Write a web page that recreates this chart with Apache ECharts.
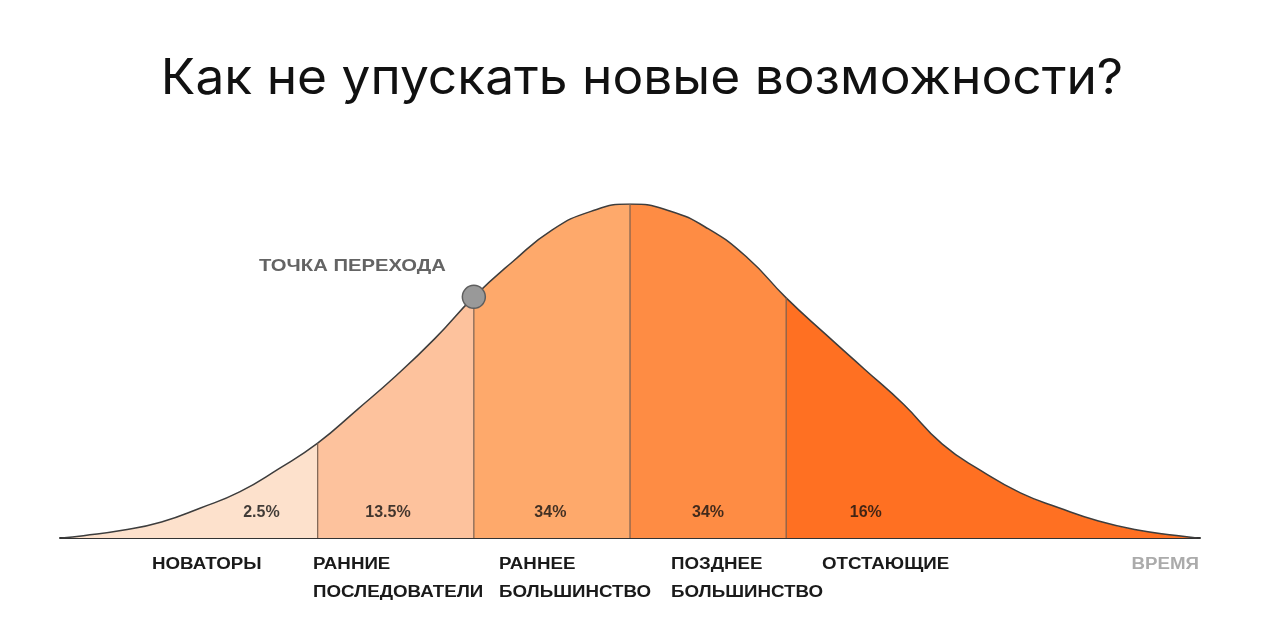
<!DOCTYPE html>
<html><head><meta charset="utf-8">
<script src="https://cdn.jsdelivr.net/npm/echarts@6/dist/echarts.min.js"></script>
<style>html,body{margin:0;padding:0;background:#fff}#c{width:1280px;height:621px}</style>
</head><body><div id="c"></div>
<script>
// Curve (x in segment units, y in % of peak height)
var curveX = [-3.64,-3.5,-3.25,-3,-2.75,-2.5,-2.25,-2,-1.75,-1.5,-1.25,-1,-0.75,-0.5,-0.25,0,0.25,0.5,0.75,1,1.25,1.5,1.75,2,2.25,2.5,2.75,3,3.25,3.5,3.63];
var curveY = [0,0.7,2.3,4.8,9.0,13.8,20.7,28.4,38.3,48.5,59.7,72.2,82.8,92.2,97.8,100,98.0,92.6,84.0,71.9,61.1,50.6,40.1,28.1,20.1,13.5,9.0,5.1,2.4,0.75,0];
var boundaries = [-2,-1,0,1];
var shares = ['2.5%','13.5%','34%','34%','16%'];
var shareLabelX = [-2.36,-1.55,-0.51,0.5,1.51];
var groupNames = ['НОВАТОРЫ','РАННИЕ\nПОСЛЕДОВАТЕЛИ','РАННЕЕ\nБОЛЬШИНСТВО','ПОЗДНЕЕ\nБОЛЬШИНСТВО','ОТСТАЮЩИЕ'];
var transitionX = -1;
var segColors = ['#fde1cc','#fdc29d','#fea96b','#fe8c44','#ff7022'];

var curve = curveX.map(function(x,i){return [x,curveY[i]];});
function yAt(x){var i=curveX.indexOf(x);return curveY[i];}
var x0 = curveX[0], x1 = curveX[curveX.length-1];
var stops = [];
var edges = [x0].concat(boundaries).concat([x1]);
for (var s=0;s<segColors.length;s++){
  stops.push({offset:(edges[s]-x0)/(x1-x0),color:segColors[s]});
  stops.push({offset:(edges[s+1]-x0)/(x1-x0),color:segColors[s]});
}

var chart = echarts.init(document.getElementById('c'));
var series = [{
  type:'line', data:curve, smooth:0.5, symbol:'none', z:3,
  lineStyle:{color:'#3d3d3d',width:1.5},
  areaStyle:{color:new echarts.graphic.LinearGradient(0,0,1,0,stops),opacity:1}
}];
boundaries.forEach(function(b){
  series.push({type:'line',data:[[b,0],[b,yAt(b)]],symbol:'none',z:4,
    lineStyle:{color:'#7b6150',width:1.2},silent:true});
});
series.push({type:'scatter',z:6,data:[[transitionX,yAt(transitionX)]],symbolSize:23,
  itemStyle:{color:'#999999',borderColor:'#5e5e5e',borderWidth:1.5,opacity:1}});
series.push({type:'scatter',z:5,symbolSize:0,
  data:shareLabelX.map(function(x,i){return {value:[x,7.5],label:{formatter:shares[i]}};}),
  label:{show:true,position:'inside',color:'#111',fontFamily:'Liberation Sans',fontWeight:'bold',fontSize:16}});

var nameLeft = [152,313,499,671,822];
var graphics = groupNames.map(function(n,i){
  return {type:'text',x:nameLeft[i],y:551,scaleX:1.17,style:{text:n,fill:'#1a1a1a',
    font:'bold 16px "Liberation Sans"',lineHeight:28,verticalAlign:'top'}};
});
graphics.push({type:'text',x:1199,y:565,scaleX:1.17,style:{text:'ВРЕМЯ',fill:'#ababab',align:'right',verticalAlign:'middle',font:'bold 16px "Liberation Sans"'}});
graphics.push({type:'text',x:259,y:266,scaleX:1.19,style:{text:'ТОЧКА ПЕРЕХОДА',fill:'#646464',verticalAlign:'middle',font:'bold 17px "Liberation Sans"'}});
graphics.push({type:'text',x:642,y:79,scaleX:1.05,style:{text:'Как не упускать новые возможности?',fill:'#111',align:'center',verticalAlign:'middle',font:'normal 49px Inter'}});

chart.setOption({
  animation:false,
  grid:{left:60,right:80,top:204,bottom:83},
  xAxis:{type:'value',min:-3.65,max:3.65,splitLine:{show:false},axisTick:{show:false},axisLabel:{show:false},
    axisLine:{show:true,lineStyle:{color:'#333',width:2}}},
  yAxis:{type:'value',min:0,max:100,show:false,splitLine:{show:false}},
  graphic:graphics,
  series:series
});
</script></body></html>
